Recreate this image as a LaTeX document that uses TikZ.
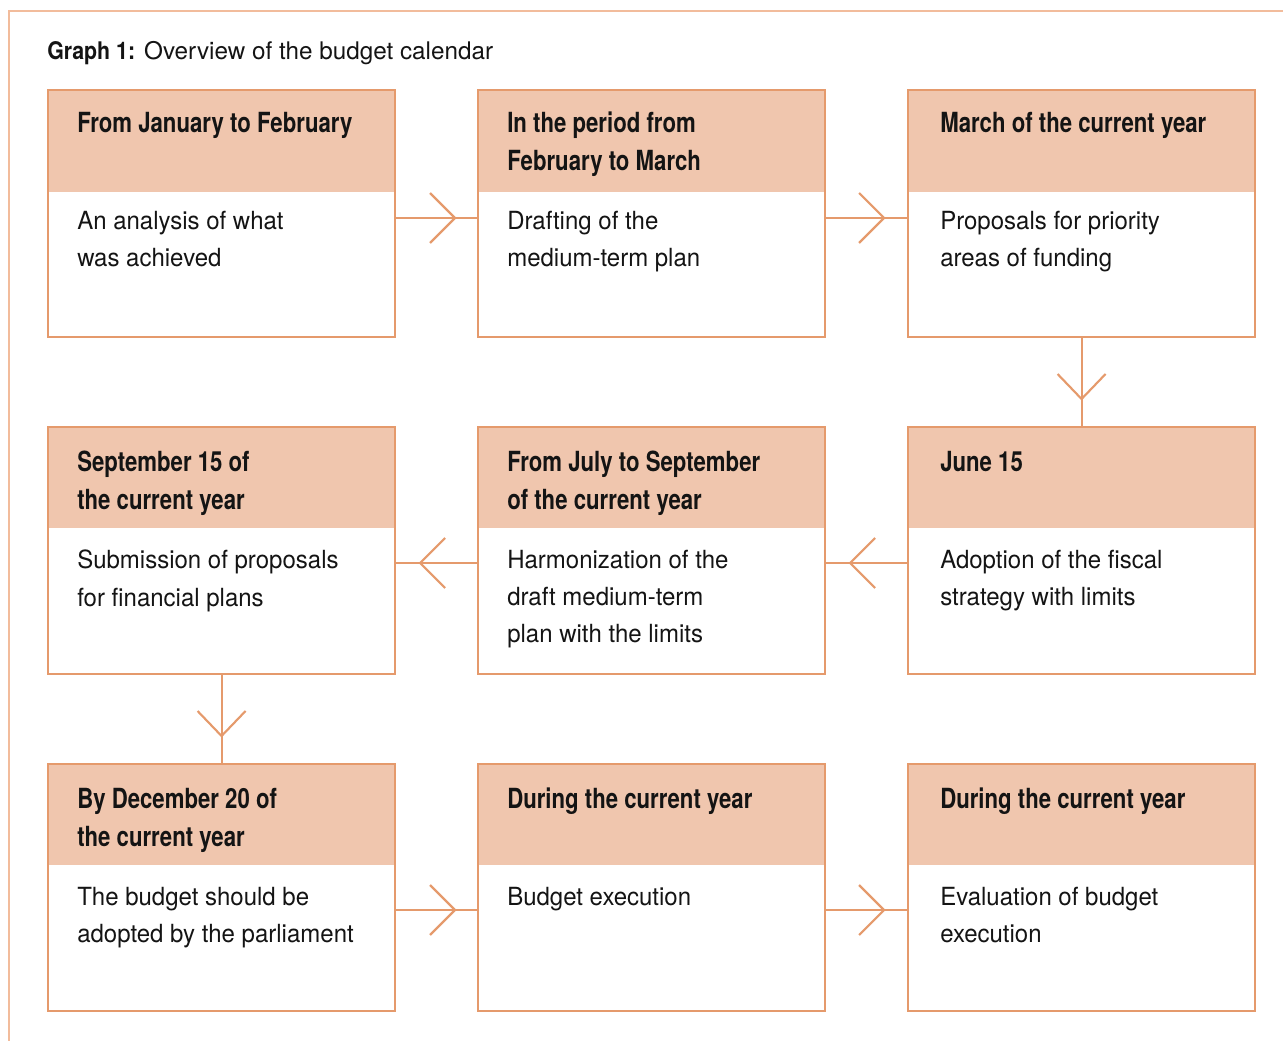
\documentclass[tikz,border=0pt]{standalone}
\usepackage{fontspec}
\setmainfont{TeX Gyre Heros}
\newfontfamily\hdrfont{TeX Gyre Heros}[FakeStretch=0.80]
\newfontfamily\bodyfont{TeX Gyre Heros}[FakeStretch=0.96]
\newfontfamily\titlefont{TeX Gyre Heros}[FakeStretch=1.0]
\newfontfamily\titleboldfont{TeX Gyre Heros}[FakeStretch=0.88]
\usetikzlibrary{calc}
\definecolor{boxline}{HTML}{E59A6C}
\definecolor{hdrfill}{HTML}{F0C6AE}
\definecolor{frameline}{HTML}{F2BC9C}
\definecolor{txt}{HTML}{141414}
\begin{document}
\begin{tikzpicture}[x=0.75pt,y=-0.75pt,
  box/.style={draw=boxline,line width=1.6pt,minimum width=260.25pt,minimum height=185.25pt,inner sep=0pt,anchor=north west},
  hdrtext/.style={anchor=north west,inner sep=0pt,align=left,text=txt,font=\hdrfont\fontsize{20.8}{28.5}\selectfont\bfseries},
  bodytext/.style={anchor=north west,inner sep=0pt,align=left,text=txt,font=\bodyfont\fontsize{18.75}{27.8}\selectfont},
  conn/.style={draw=boxline,line width=1.6pt}]
\useasboundingbox (0,0) rectangle (1283,1041);
\draw[frameline,line width=1.2pt] (9,1041) -- (9,11) -- (1283,11);
\node[anchor=north west,inner sep=0pt,text=txt,font=\titlefont\fontsize{18.2}{21}\selectfont] (title) at (47,41) {{\titleboldfont\bfseries Graph 1:} Overview of the budget calendar};
% header fills
\foreach \x in {47,477,907}{
  \fill[hdrfill] (\x,89) rectangle ++(347,103);
  \fill[hdrfill] (\x,426) rectangle ++(347,102);
  \fill[hdrfill] (\x,763) rectangle ++(347,102);
}
\node[box] (b1) at (47,89) {};
\node[box] (b2) at (477,89) {};
\node[box] (b3) at (907,89) {};
\node[box] (b4) at (47,426) {};
\node[box] (b5) at (477,426) {};
\node[box] (b6) at (907,426) {};
\node[box] (b7) at (47,763) {};
\node[box] (b8) at (477,763) {};
\node[box] (b9) at (907,763) {};
% texts
\node[hdrtext] (h1) at ($(b1.north west)+(30,23)$) {From January to February};
\node[bodytext] (t1) at ($(b1.north west)+(30,122)$) {An analysis of what\\was achieved};
\node[hdrtext] (h2) at ($(b2.north west)+(30,23)$) {In the period from\\February to March};
\node[bodytext] (t2) at ($(b2.north west)+(30,122)$) {Drafting of the\\medium-term plan};
\node[hdrtext] (h3) at ($(b3.north west)+(33,23)$) {March of the current year};
\node[bodytext] (t3) at ($(b3.north west)+(33,122)$) {Proposals for priority\\areas of funding};
\node[hdrtext] (h4) at ($(b4.north west)+(30,25)$) {September 15 of\\the current year};
\node[bodytext] (t4) at ($(b4.north west)+(30,124)$) {Submission of proposals\\for financial plans};
\node[hdrtext] (h5) at ($(b5.north west)+(30,25)$) {From July to September\\of the current year};
\node[bodytext] (t5) at ($(b5.north west)+(30,124)$) {Harmonization of the\\draft medium-term\\plan with the limits};
\node[hdrtext] (h6) at ($(b6.north west)+(33,25)$) {June 15};
\node[bodytext] (t6) at ($(b6.north west)+(33,124)$) {Adoption of the fiscal\\strategy with limits};
\node[hdrtext] (h7) at ($(b7.north west)+(30,25)$) {By December 20 of\\the current year};
\node[bodytext] (t7) at ($(b7.north west)+(30,124)$) {The budget should be\\adopted by the parliament};
\node[hdrtext] (h8) at ($(b8.north west)+(30,25)$) {During the current year};
\node[bodytext] (t8) at ($(b8.north west)+(30,124)$) {Budget execution};
\node[hdrtext] (h9) at ($(b9.north west)+(33,25)$) {During the current year};
\node[bodytext] (t9) at ($(b9.north west)+(33,124)$) {Evaluation of budget\\execution};
% connectors
\draw[conn] ($(b1.north east)+(0,129)$) -- ($(b2.north west)+(0,129)$);
\draw[conn] ($(b2.north west)+(-22,129)$) +(-25,-25) -- +(0,0) -- +(-25,25);
\draw[conn] ($(b2.north east)+(0,129)$) -- ($(b3.north west)+(0,129)$);
\draw[conn] ($(b3.north west)+(-23,129)$) +(-25,-25) -- +(0,0) -- +(-25,25);
\draw[conn] (b3.south) -- (b6.north);
\draw[conn] ($(b6.north)+(0,-27)$) +(-24,-25) -- +(0,0) -- +(24,-25);
\draw[conn] ($(b6.north west)+(0,137)$) -- ($(b5.north east)+(0,137)$);
\draw[conn] ($(b5.north east)+(24,137)$) +(25,-25) -- +(0,0) -- +(25,25);
\draw[conn] ($(b5.north west)+(0,137)$) -- ($(b4.north east)+(0,137)$);
\draw[conn] ($(b4.north east)+(24,137)$) +(25,-25) -- +(0,0) -- +(25,25);
\draw[conn] (b4.south) -- (b7.north);
\draw[conn] ($(b7.north)+(0,-27)$) +(-24,-25) -- +(0,0) -- +(24,-25);
\draw[conn] ($(b7.north east)+(0,147)$) -- ($(b8.north west)+(0,147)$);
\draw[conn] ($(b8.north west)+(-22,147)$) +(-25,-25) -- +(0,0) -- +(-25,25);
\draw[conn] ($(b8.north east)+(0,147)$) -- ($(b9.north west)+(0,147)$);
\draw[conn] ($(b9.north west)+(-23,147)$) +(-25,-25) -- +(0,0) -- +(-25,25);
\end{tikzpicture}
\end{document}
